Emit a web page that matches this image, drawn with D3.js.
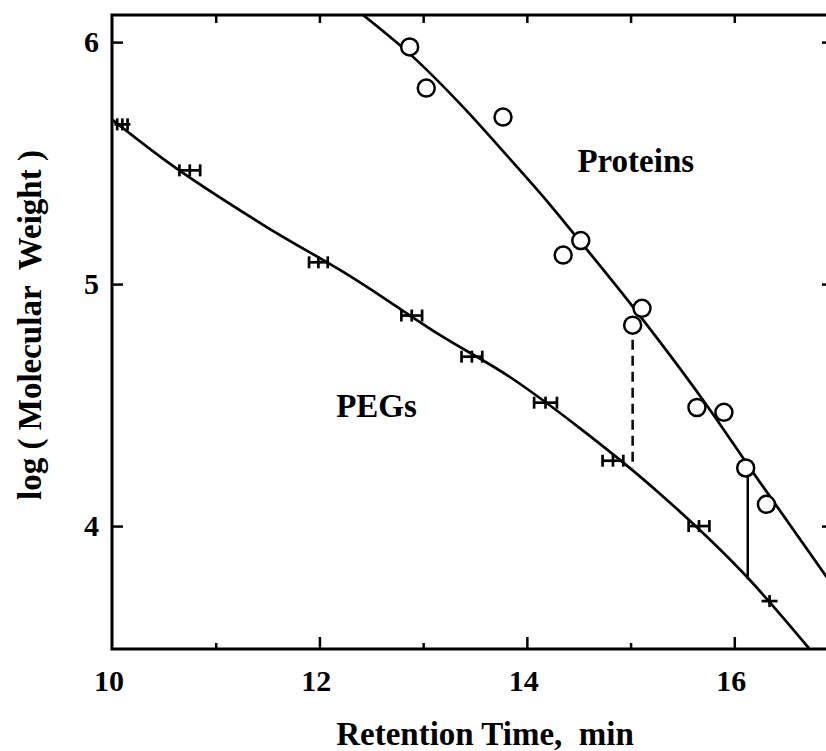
<!DOCTYPE html>
<html>
<head>
<meta charset="utf-8">
<script src="https://cdn.jsdelivr.net/npm/d3@7/dist/d3.min.js"></script>
<style>
  body { margin: 0; background: #fff; }
  svg text { font-family: "Liberation Serif", "Times New Roman", serif; font-weight: bold; fill: #000; }
</style>
</head>
<body>
<div id="chart"></div>
<script>
// PEG standards (retention time, log MW, half width of the time error bar)
var pegTime = [10.10, 10.75, 11.99, 12.89, 13.47, 14.18, 14.83, 15.66, 16.34];
var pegLogMW = [5.66, 5.47, 5.09, 4.87, 4.70, 4.51, 4.27, 4.00, 3.69];
var pegErr = [0.05, 0.10, 0.09, 0.10, 0.10, 0.11, 0.10, 0.10, 0];

// protein standards
var protTime = [12.87, 13.03, 13.77, 14.35, 14.52, 15.02, 15.11, 15.64, 15.90, 16.11, 16.31];
var protLogMW = [5.98, 5.81, 5.69, 5.12, 5.18, 4.83, 4.90, 4.49, 4.47, 4.24, 4.09];

// fitted calibration curves
var pegFitTime = [10.00, 10.53, 11.46, 12.33, 13.16, 13.84, 14.51, 15.28, 16.15, 16.72];
var pegFitLogMW = [5.68, 5.506, 5.244, 5.024, 4.79, 4.615, 4.405, 4.135, 3.777, 3.495];
var protFitTime = [12.42, 12.90, 13.40, 13.80, 14.20, 14.45, 15.03, 15.70, 16.18, 16.89];
var protFitLogMW = [6.112, 5.94, 5.725, 5.535, 5.34, 5.21, 4.902, 4.52, 4.222, 3.79];

// vertical connectors protein -> PEG
var connTime = [15.02, 16.13];
var connTop = [4.77, 4.21];
var connBottom = [4.24, 3.78];
var connDashed = [true, false];

var xTicksMajor = [10, 12, 14, 16];
var xTicksMinor = [11, 13, 15];
var xTicksTop = [11, 12, 13, 14, 15, 16];
var yTicks = [4, 5, 6];

var margin = {top: 15, left: 112};
var width = 726, height = 634;

var svg = d3.select("#chart").append("svg")
  .attr("width", 826).attr("height", 751);
var g = svg.append("g")
  .attr("transform", "translate(" + margin.left + "," + margin.top + ")");

var x = d3.scaleLinear().domain([10, 17]).range([0, width]);
var y = d3.scaleLinear().domain([3.492, 6.112]).range([height, 0]);

g.append("clipPath").attr("id", "plotclip")
  .append("rect").attr("width", width).attr("height", height);

// frame
g.append("rect")
  .attr("width", width).attr("height", height)
  .attr("fill", "none").attr("stroke", "#000").attr("stroke-width", 3);

// bottom axis (labels + major inward ticks)
var xAxis = g.append("g").attr("transform", "translate(0," + height + ")")
  .call(d3.axisBottom(x).tickValues(xTicksMajor).tickSize(-12).tickPadding(21)
    .tickFormat(d3.format("d")));
xAxis.select(".domain").remove();
xAxis.selectAll("line").attr("stroke-width", 2.5);
xAxis.selectAll("text").attr("font-size", 30).attr("dx", "-0.12em");
xAxis.selectAll(".tick").filter(function(d) { return d === 10; }).select("line").remove();

var xMinor = g.append("g").attr("transform", "translate(0," + height + ")")
  .call(d3.axisBottom(x).tickValues(xTicksMinor).tickSize(-6).tickFormat(""));
xMinor.select(".domain").remove();
xMinor.selectAll("line").attr("stroke-width", 2.5);

// top axis
var xTop = g.append("g")
  .call(d3.axisTop(x).tickValues(xTicksTop).tickSize(-8).tickFormat(""));
xTop.select(".domain").remove();
xTop.selectAll("line").attr("stroke-width", 2.5);

// left axis
var yAxis = g.append("g")
  .call(d3.axisLeft(y).tickValues(yTicks).tickSize(-11).tickPadding(13)
    .tickFormat(d3.format("d")));
yAxis.select(".domain").remove();
yAxis.selectAll("line").attr("stroke-width", 2.5);
yAxis.selectAll("text").attr("font-size", 30);

// right axis, mostly outside the window
var yRight = g.append("g").attr("transform", "translate(" + width + ",0)")
  .call(d3.axisRight(y).tickValues(yTicks).tickSize(-16).tickFormat(""));
yRight.select(".domain").remove();
yRight.selectAll("line").attr("stroke-width", 2.5);

// curves
var line = d3.line().curve(d3.curveMonotoneX)
  .x(function(d) { return x(d[0]); })
  .y(function(d) { return y(d[1]); });

var plot = g.append("g").attr("clip-path", "url(#plotclip)");

plot.append("path")
  .datum(d3.zip(pegFitTime, pegFitLogMW))
  .attr("d", line)
  .attr("fill", "none").attr("stroke", "#000").attr("stroke-width", 2.7);

plot.append("path")
  .datum(d3.zip(protFitTime, protFitLogMW))
  .attr("d", line)
  .attr("fill", "none").attr("stroke", "#000").attr("stroke-width", 2.7);

// connectors
plot.selectAll(".conn")
  .data(d3.range(connTime.length))
  .enter().append("line")
  .attr("class", "conn")
  .attr("x1", function(i) { return x(connTime[i]); })
  .attr("x2", function(i) { return x(connTime[i]); })
  .attr("y1", function(i) { return y(connTop[i]); })
  .attr("y2", function(i) { return y(connBottom[i]); })
  .attr("stroke", "#000").attr("stroke-width", 2.5)
  .attr("stroke-dasharray", function(i) { return connDashed[i] ? "10,6" : null; });

// PEG markers with horizontal error bars
var peg = plot.selectAll(".peg")
  .data(d3.range(pegTime.length))
  .enter().append("g")
  .attr("class", "peg")
  .attr("transform", function(i) { return "translate(" + x(pegTime[i]) + "," + y(pegLogMW[i]) + ")"; });

peg.append("line")
  .attr("x1", function(i) { return Math.min(x(pegTime[i] - pegErr[i]) - x(pegTime[i]), -8); })
  .attr("x2", function(i) { return Math.max(x(pegTime[i] + pegErr[i]) - x(pegTime[i]), 8); })
  .attr("y1", 0).attr("y2", 0)
  .attr("stroke", "#000").attr("stroke-width", 2.7);
peg.append("line")
  .attr("x1", 0).attr("x2", 0).attr("y1", -6).attr("y2", 6)
  .attr("stroke", "#000").attr("stroke-width", 2.7);
peg.filter(function(i) { return pegErr[i] > 0; })
  .selectAll(".cap")
  .data(function(i) { return [pegTime[i] - pegErr[i], pegTime[i] + pegErr[i]].map(function(t) { return x(t) - x(pegTime[i]); }); })
  .enter().append("line")
  .attr("class", "cap")
  .attr("x1", function(d) { return d; }).attr("x2", function(d) { return d; })
  .attr("y1", -6).attr("y2", 6)
  .attr("stroke", "#000").attr("stroke-width", 2.7);

// protein circles
plot.selectAll(".prot")
  .data(d3.range(protTime.length))
  .enter().append("circle")
  .attr("class", "prot")
  .attr("cx", function(i) { return x(protTime[i]); })
  .attr("cy", function(i) { return y(protLogMW[i]); })
  .attr("r", 8.5)
  .attr("fill", "#fff").attr("stroke", "#000").attr("stroke-width", 2.5);

// labels
g.append("text")
  .attr("x", x(15.05)).attr("y", y(5.463))
  .attr("text-anchor", "middle").attr("font-size", 33)
  .text("Proteins");

g.append("text")
  .attr("x", x(12.55)).attr("y", y(4.45))
  .attr("text-anchor", "middle").attr("font-size", 33)
  .text("PEGs");

svg.append("text")
  .attr("x", 485).attr("y", 745)
  .attr("text-anchor", "middle").attr("font-size", 33)
  .style("white-space", "pre")
  .text("Retention Time,  min");

svg.append("text")
  .attr("transform", "translate(41,325) rotate(-90)")
  .attr("text-anchor", "middle").attr("font-size", 33)
  .style("white-space", "pre")
  .text("log ( Molecular  Weight )");
</script>
</body>
</html>
